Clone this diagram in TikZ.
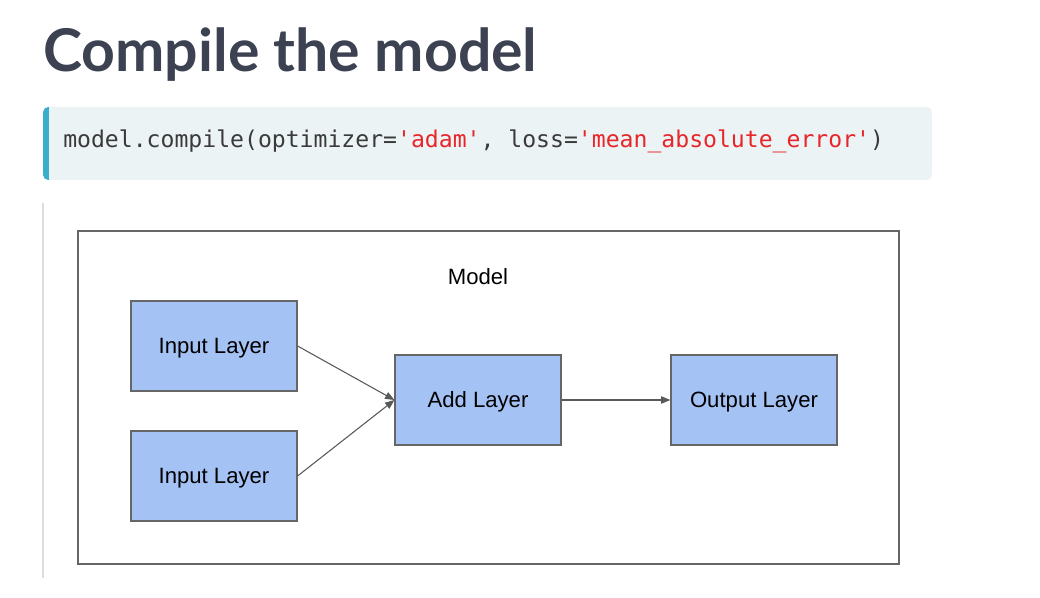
\documentclass[tikz,border=0pt]{standalone}
\usepackage{fontspec}
\setmainfont{Liberation Sans}
\newfontfamily\titlefont{Lato}
\newfontfamily\codefont{DejaVu Sans Mono}
\usetikzlibrary{arrows.meta}
\definecolor{titlecol}{HTML}{3D4252}
\definecolor{codebg}{HTML}{EBF3F5}
\definecolor{codebar}{HTML}{3AAECB}
\definecolor{codetxt}{HTML}{3A3A3A}
\definecolor{strred}{HTML}{E8262A}
\definecolor{layerfill}{HTML}{A4C2F4}
\definecolor{layerline}{HTML}{666666}
\definecolor{arrowcol}{HTML}{595959}
\definecolor{sideline}{HTML}{DDDDDD}
\tikzset{
  lbl/.style={inner sep=0pt, text height=11.9pt, text depth=0pt,
    font=\fontsize{16.6}{19}\selectfont, text=black},
  layer/.style={lbl, draw=layerline, fill=layerfill, line width=0.9pt,
    minimum width=124.5pt, minimum height=67.5pt},
  conn/.style={draw=arrowcol, line width=0.8pt, -{Triangle[length=7pt,width=5.5pt]}},
}
\begin{document}
\begin{tikzpicture}[x=0.75pt,y=-0.75pt]
\useasboundingbox (0,0) rectangle (1040,598);
\fill[white] (0,0) rectangle (1040,598);
% title
\node[anchor=base west, inner sep=0pt, text=titlecol, font=\titlefont\bfseries\fontsize{44.2}{52}\selectfont] (title) at (43,72) {Compile the model};
% code block
\fill[codebg, rounded corners=4pt] (43,107) rectangle (932,180);
\begin{scope}
\clip[rounded corners=4pt] (43,107) rectangle (932,180);
\fill[codebar] (43,107) rectangle (49,180);
\end{scope}
\node[anchor=base west, inner sep=0pt, text=codetxt, font=\codefont\fontsize{17.33}{20}\selectfont] (code) at (63,148) {model.compile(optimizer=\textcolor{strred}{'adam'}, loss=\textcolor{strred}{'mean\_absolute\_error'})};
% side line
\draw[sideline, line width=1.5pt] (43,203) -- (43,578);
% model frame
\draw[layerline, line width=0.9pt] (78,231) rectangle (899,564);
\node[lbl] (modellbl) at (478,277) {Model};
% layers
\node[layer] (in1) at (214,346) {Input Layer};
\node[layer] (in2) at (214,476) {Input Layer};
\node[layer] (add) at (478,400) {Add Layer};
\node[layer] (out) at (754,400) {Output Layer};
% connectors
\draw[conn] (in1.east) -- (add.west);
\draw[conn] (in2.east) -- (add.west);
\draw[conn] (add.east) -- (out.west);
\end{tikzpicture}
\end{document}
